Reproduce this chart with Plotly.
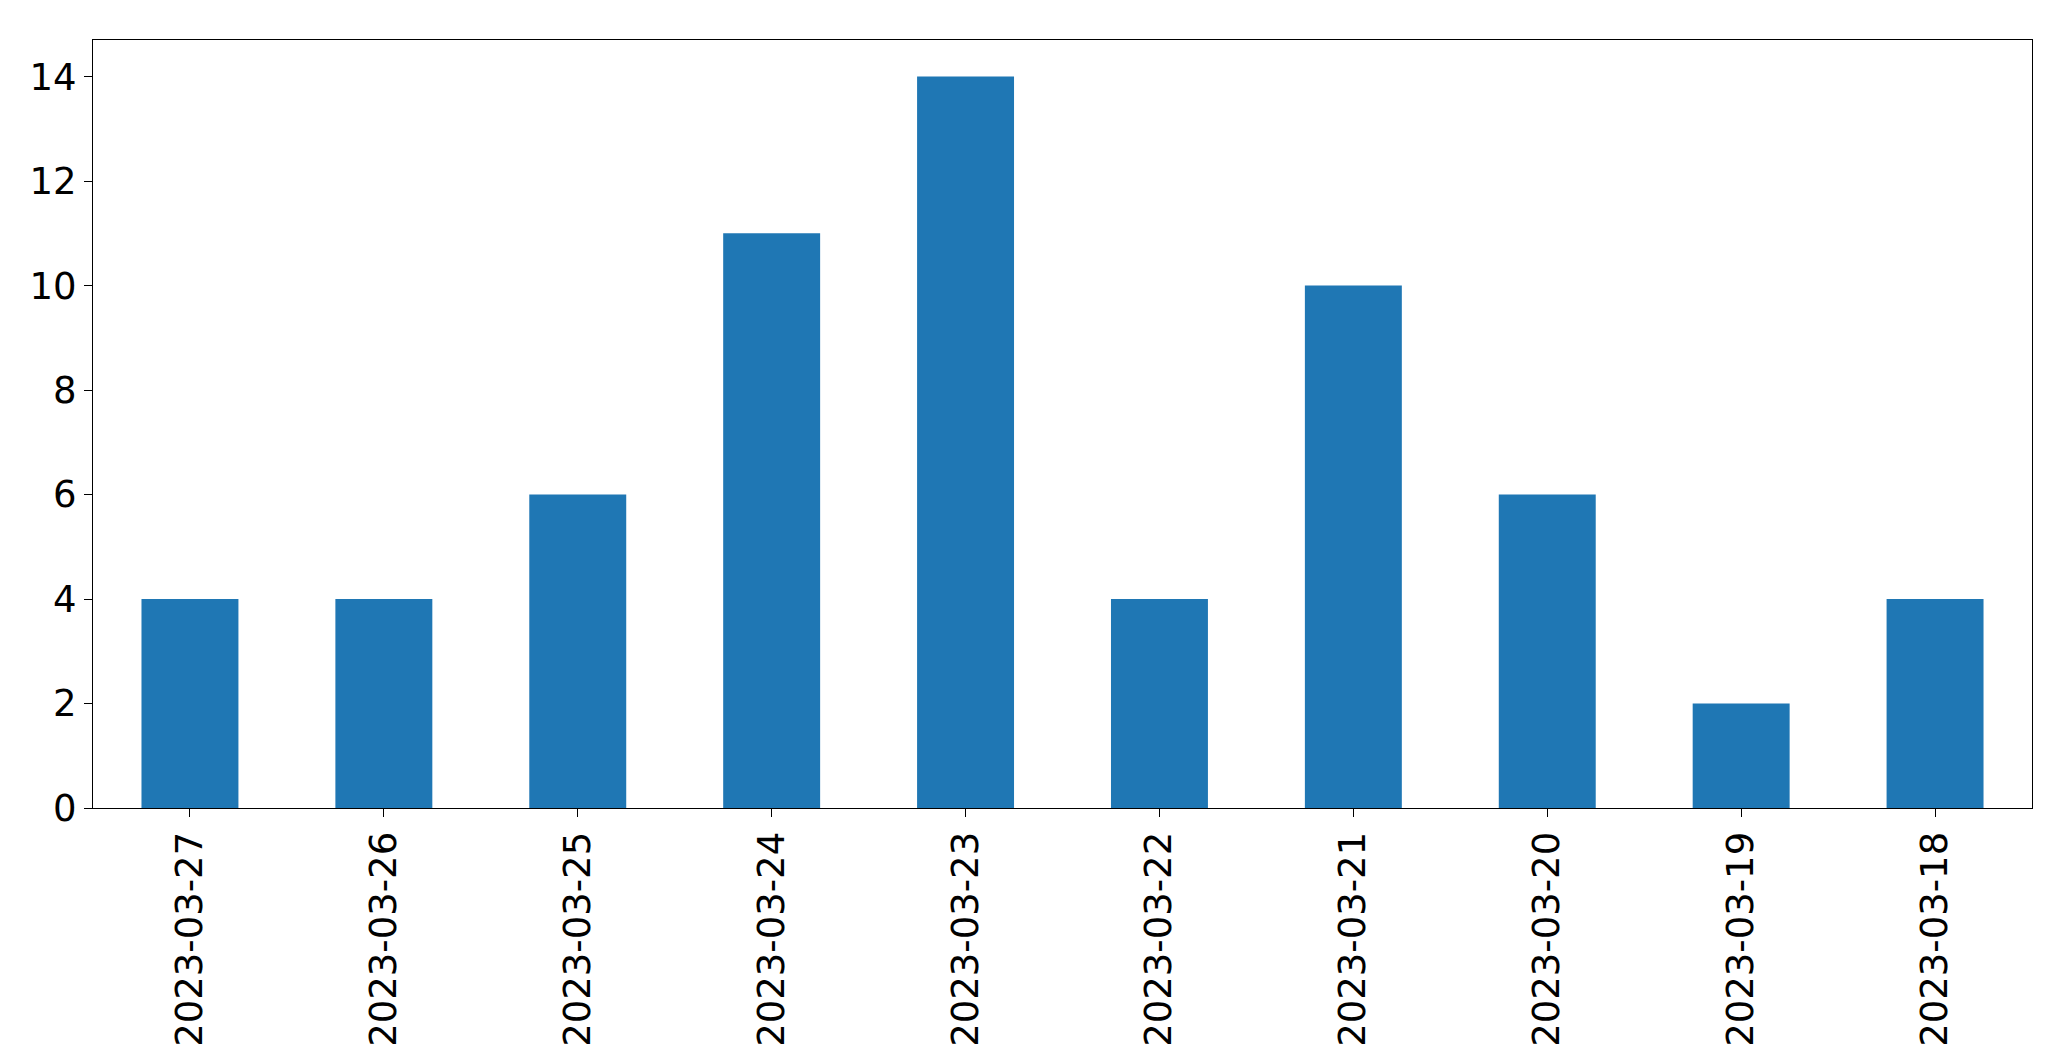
import plotly.graph_objects as go

dates = ["2023-03-27","2023-03-26","2023-03-25","2023-03-24","2023-03-23",
         "2023-03-22","2023-03-21","2023-03-20","2023-03-19","2023-03-18"]
counts = [4, 4, 6, 11, 14, 4, 10, 6, 2, 4]

fig = go.Figure(go.Bar(x=dates, y=counts, width=0.5, marker_color="#1f77b4", marker_line_width=0))
axis_common = dict(showline=True, linecolor="black", linewidth=1, mirror=True,
                   ticks="outside", ticklen=8, tickcolor="black", showgrid=False,
                   zeroline=False, tickfont=dict(family="DejaVu Sans", size=37, color="black"))
fig.update_xaxes(type="category", range=[-0.5, 9.5], tickangle=-90, **axis_common)
fig.update_yaxes(range=[0, 14.7], dtick=2, **axis_common)
fig.update_layout(width=2071, height=1061, plot_bgcolor="white", paper_bgcolor="white",
                  margin=dict(l=85, r=47, t=32, b=261), showlegend=False)
fig.write_html("out.html")
